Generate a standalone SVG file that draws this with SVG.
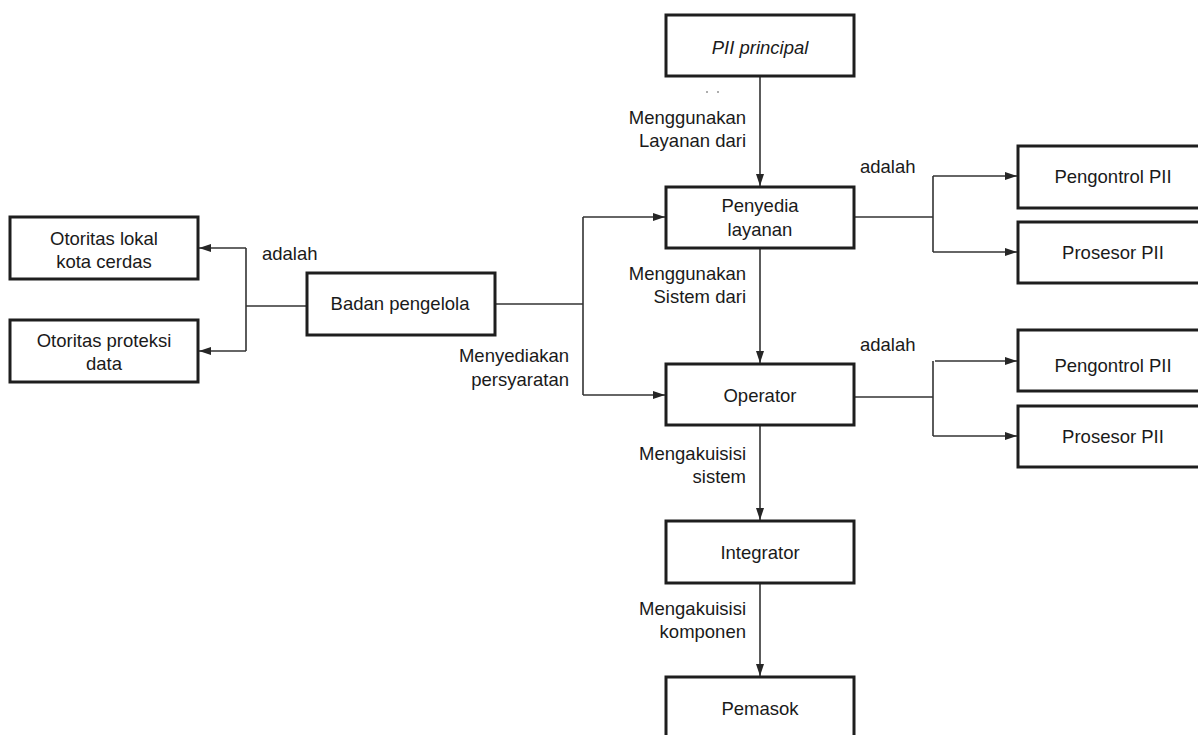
<svg xmlns="http://www.w3.org/2000/svg" width="1198" height="735" viewBox="0 0 1198 735">
  <defs>
    <marker id="arrow" viewBox="0 0 12 8" refX="12" refY="4" markerWidth="12" markerHeight="8" markerUnits="userSpaceOnUse" orient="auto">
      <path d="M0,0 L12,4 L0,8 Z" fill="#262626"/>
    </marker>
    <style>
      .box { fill: #ffffff; stroke: #1e1e1e; stroke-width: 3; }
      .lbl { font-family: "Liberation Sans", Arial, sans-serif; font-size: 18.5px; fill: #1a1a1a; }
      .mid { text-anchor: middle; }
      .end { text-anchor: end; }
      .wire { fill: none; stroke: #333333; stroke-width: 1.6; }
    </style>
  </defs>
  <rect width="1198" height="735" fill="#ffffff"/>

  <!-- connectors -->
  <g id="connectors">
    <path class="wire" d="M760,76 V186" marker-end="url(#arrow)"/>
    <path class="wire" d="M760,248 V363" marker-end="url(#arrow)"/>
    <path class="wire" d="M760,425 V520" marker-end="url(#arrow)"/>
    <path class="wire" d="M760,583 V676" marker-end="url(#arrow)"/>
    <!-- governing body fan-out -->
    <path class="wire" d="M307,306 H246"/>
    <path class="wire" d="M246,248 V351"/>
    <path class="wire" d="M246,248 H199" marker-end="url(#arrow)"/>
    <path class="wire" d="M246,351 H199" marker-end="url(#arrow)"/>
    <path class="wire" d="M495,304 H583"/>
    <path class="wire" d="M583,217 V395"/>
    <path class="wire" d="M583,217 H665" marker-end="url(#arrow)"/>
    <path class="wire" d="M583,395 H665" marker-end="url(#arrow)"/>
    <!-- service provider roles -->
    <path class="wire" d="M855,217 H933"/>
    <path class="wire" d="M933,176 V252"/>
    <path class="wire" d="M933,176 H1017" marker-end="url(#arrow)"/>
    <path class="wire" d="M933,252 H1017" marker-end="url(#arrow)"/>
    <!-- operator roles -->
    <path class="wire" d="M855,397 H933"/>
    <path class="wire" d="M933,361 V436"/>
    <path class="wire" d="M935,361 H1017" marker-end="url(#arrow)"/>
    <path class="wire" d="M933,436 H1017" marker-end="url(#arrow)"/>
    <!-- small tick marks under the top box -->
    <path d="M707,91 v2 M718,91 v2" stroke="#777777" stroke-width="1.2"/>
  </g>

  <!-- connector labels -->
  <g id="edge-labels">
    <text class="lbl end" x="746" y="124">Menggunakan</text>
    <text class="lbl end" x="746" y="147">Layanan dari</text>
    <text class="lbl end" x="746" y="280">Menggunakan</text>
    <text class="lbl end" x="746" y="303">Sistem dari</text>
    <text class="lbl end" x="746" y="460">Mengakuisisi</text>
    <text class="lbl end" x="746" y="483">sistem</text>
    <text class="lbl end" x="746" y="615">Mengakuisisi</text>
    <text class="lbl end" x="746" y="638">komponen</text>
    <text class="lbl end" x="569" y="362">Menyediakan</text>
    <text class="lbl end" x="569" y="386">persyaratan</text>
    <text class="lbl" x="262" y="260">adalah</text>
    <text class="lbl" x="860" y="173">adalah</text>
    <text class="lbl" x="860" y="351">adalah</text>
  </g>

  <g id="node-pii-principal">
    <rect class="box" x="666" y="15" width="188" height="61"/>
    <text class="lbl mid" x="760" y="54" font-style="italic">PII principal</text>
  </g>
  <g id="node-penyedia">
    <rect class="box" x="666" y="187" width="188" height="61"/>
    <text class="lbl mid" x="760" y="212">Penyedia</text>
    <text class="lbl mid" x="760" y="236">layanan</text>
  </g>
  <g id="node-badan">
    <rect class="box" x="307" y="273" width="188" height="62"/>
    <text class="lbl mid" x="400" y="310">Badan pengelola</text>
  </g>
  <g id="node-otoritas-lokal">
    <rect class="box" x="10" y="217" width="188" height="62"/>
    <text class="lbl mid" x="104" y="245">Otoritas lokal</text>
    <text class="lbl mid" x="104" y="268">kota cerdas</text>
  </g>
  <g id="node-otoritas-proteksi">
    <rect class="box" x="10" y="320" width="188" height="62"/>
    <text class="lbl mid" x="104" y="347">Otoritas proteksi</text>
    <text class="lbl mid" x="104" y="370">data</text>
  </g>
  <g id="node-operator">
    <rect class="box" x="666" y="364" width="188" height="61"/>
    <text class="lbl mid" x="760" y="402">Operator</text>
  </g>
  <g id="node-integrator">
    <rect class="box" x="666" y="521" width="188" height="62"/>
    <text class="lbl mid" x="760" y="559">Integrator</text>
  </g>
  <g id="node-pemasok">
    <rect class="box" x="666" y="677" width="188" height="70"/>
    <text class="lbl mid" x="760" y="715">Pemasok</text>
  </g>
  <g id="node-pengontrol-1">
    <rect class="box" x="1018" y="146" width="190" height="62"/>
    <text class="lbl mid" x="1113" y="183">Pengontrol PII</text>
  </g>
  <g id="node-prosesor-1">
    <rect class="box" x="1018" y="222" width="190" height="61"/>
    <text class="lbl mid" x="1113" y="259">Prosesor PII</text>
  </g>
  <g id="node-pengontrol-2">
    <rect class="box" x="1018" y="330" width="190" height="61"/>
    <text class="lbl mid" x="1113" y="372">Pengontrol PII</text>
  </g>
  <g id="node-prosesor-2">
    <rect class="box" x="1018" y="406" width="190" height="61"/>
    <text class="lbl mid" x="1113" y="443">Prosesor PII</text>
  </g>
</svg>
